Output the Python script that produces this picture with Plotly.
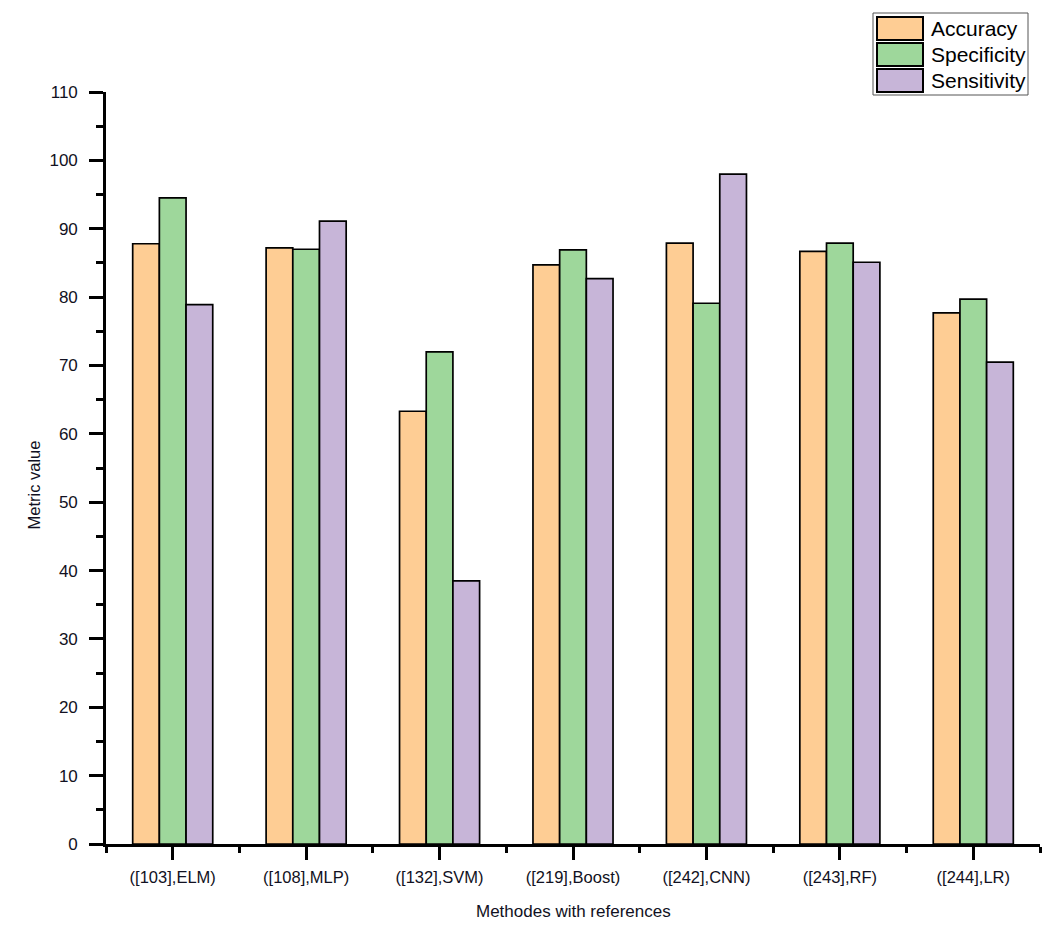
import plotly.graph_objects as go

categories = ["([103],ELM)", "([108],MLP)", "([132],SVM)", "([219],Boost)",
              "([242],CNN)", "([243],RF)", "([244],LR)"]
accuracy = [87.8, 87.2, 63.3, 84.7, 87.9, 86.7, 77.7]
specificity = [94.5, 87.0, 72.0, 86.9, 79.1, 87.9, 79.7]
sensitivity = [78.9, 91.1, 38.5, 82.7, 98.0, 85.1, 70.5]

series_names = ["Accuracy", "Specificity", "Sensitivity"]
series_colors = ["#FECD94", "#9ED79B", "#C7B5D8"]
series_values = [accuracy, specificity, sensitivity]

xpos = list(range(len(categories)))

font_family = "Liberation Sans, Arial, sans-serif"
text_color = "#111122"

# plot area in page pixels (page has 8px body margin)
PL, PR, PT, PB = 106, 1040, 92, 844


def px2x(px):
    return (px - PL) / (PR - PL)


def py2y(py):
    return (PB - py) / (PB - PT)


fig = go.Figure()
for name, color, vals in zip(series_names, series_colors, series_values):
    fig.add_trace(go.Bar(
        x=xpos, y=vals, name=name,
        marker=dict(color=color, line=dict(color="black", width=1.7)),
        showlegend=False,
    ))

fig.update_layout(
    width=1048, height=925,
    margin=dict(l=PL - 8, r=1048 + 8 - PR, t=PT - 8, b=925 + 8 - PB),
    paper_bgcolor="white", plot_bgcolor="white",
    barmode="group", bargap=0.4, bargroupgap=0,
    font=dict(family=font_family, color=text_color, size=17),
    showlegend=False,
)

fig.update_xaxes(
    range=[-0.5, 6.5],
    tickmode="array", tickvals=xpos, ticktext=categories,
    showline=True, linecolor="black", linewidth=2.6,
    ticks="outside", ticklen=13, tickwidth=2.6, tickcolor="black",
    showgrid=False, zeroline=False,
    tickfont=dict(size=16.5, color=text_color),
    ticklabelstandoff=3,
    minor=dict(tickmode="linear", tick0=-0.5, dtick=1, ticks="outside",
               ticklen=6, tickwidth=2.6, tickcolor="black", showgrid=False),
)

fig.update_yaxes(
    range=[0, 110],
    tickmode="linear", tick0=0, dtick=10,
    showline=True, linecolor="black", linewidth=2.6,
    ticks="outside", ticklen=14, tickwidth=2.6, tickcolor="black",
    showgrid=False, zeroline=False,
    tickfont=dict(size=17, color=text_color),
    ticklabelstandoff=8,
    minor=dict(tickmode="linear", tick0=5, dtick=10, ticks="outside",
               ticklen=7, tickwidth=2.6, tickcolor="black", showgrid=False),
)

# axis titles
fig.add_annotation(text="Methodes with references", xref="paper", yref="paper",
                   x=0.5, y=py2y(911), xanchor="center", yanchor="middle",
                   showarrow=False, font=dict(size=17, color=text_color))
fig.add_annotation(text="Metric value", xref="paper", yref="paper",
                   x=px2x(33.5), y=py2y(485), xanchor="center", yanchor="middle",
                   textangle=-90, showarrow=False,
                   font=dict(size=16.5, color=text_color))

# legend (box + swatches + labels)
fig.add_shape(type="rect", xref="paper", yref="paper",
              x0=px2x(873), x1=px2x(1028), y0=py2y(95), y1=py2y(13),
              line=dict(color="#555555", width=1), fillcolor="white", layer="above")
row_tops = [17, 43, 69]
row_h = 23
for name, color, top in zip(series_names, series_colors, row_tops):
    fig.add_shape(type="rect", xref="paper", yref="paper",
                  x0=px2x(877), x1=px2x(923), y0=py2y(top + row_h), y1=py2y(top),
                  line=dict(color="black", width=2), fillcolor=color, layer="above")
    fig.add_annotation(text=name, xref="paper", yref="paper",
                       x=px2x(929), y=py2y(top + row_h / 2), xanchor="left",
                       yanchor="middle", showarrow=False,
                       font=dict(size=21, color="black"))

fig.write_html("out.html")
